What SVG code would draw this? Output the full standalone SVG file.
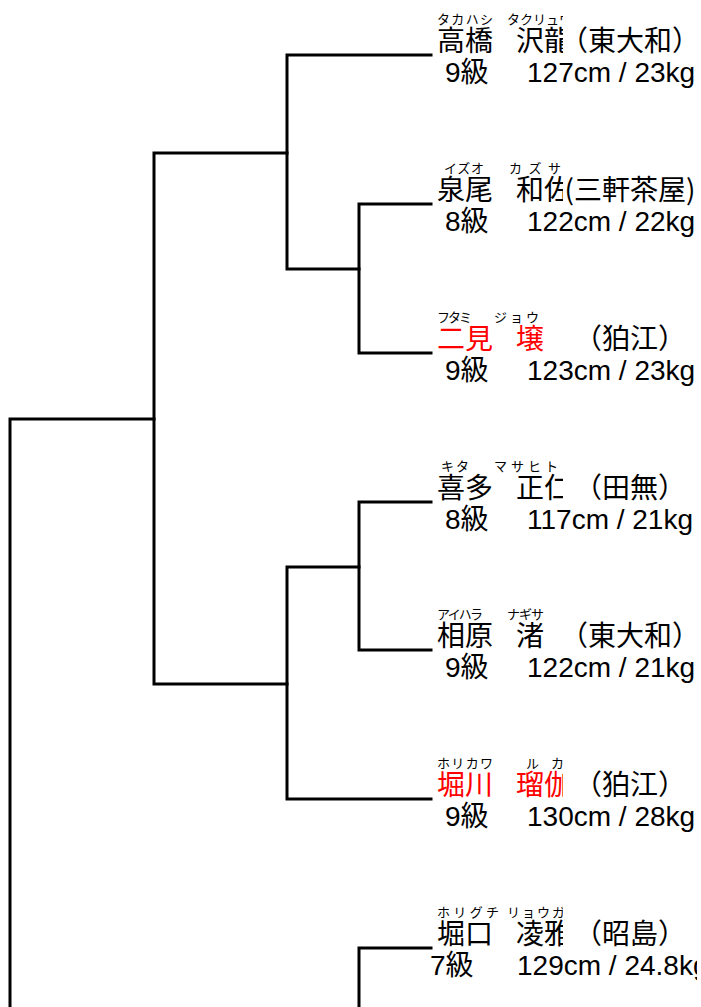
<svg xmlns="http://www.w3.org/2000/svg" width="701" height="1007" viewBox="0 0 701 1007">
<style>
.f{font-family:"Noto Sans CJK JP","Noto Sans CJK SC",sans-serif;font-size:13px;fill:#000}
.n{font-family:"Noto Sans CJK JP","Noto Sans CJK SC",sans-serif;font-size:28px;fill:#000}
.r{fill:#ff0000}
.g{font-family:"Noto Sans CJK JP","Noto Sans CJK SC",sans-serif;font-size:28px;fill:#000;text-anchor:middle}
.s{font-family:"Liberation Sans","Noto Sans CJK JP",sans-serif;font-size:28px;fill:#000}
.ln{fill:none;stroke:#000;stroke-width:3;stroke-linejoin:miter;stroke-linecap:square}
</style>
<defs>
<clipPath id="cg"><rect x="490" y="0" width="73" height="1007"/></clipPath>
<clipPath id="cr"><rect x="0" y="0" width="697" height="1007"/></clipPath>
</defs>
<rect width="701" height="1007" fill="#fff"/>
<g id="connectors">
<path class="ln" d="M431,55 H287 V269 H359"/>
<path class="ln" d="M431,204 H359 V353 H431"/>
<path class="ln" d="M287,153 H154 V684 H287"/>
<path class="ln" d="M431,502 H359 V650 H431"/>
<path class="ln" d="M359,567 H287 V799 H431"/>
<path class="ln" d="M154,419 H10 V1012"/>
<path class="ln" d="M431,948 H359 V1012"/>
</g>
<g id="n1">
<text class="f" x="437" y="24" textLength="56">タカハシ</text>
<text class="f" x="507" y="24" clip-path="url(#cg)">タクリュウ</text>
<text class="n" x="437" y="51">高橋</text>
<text class="n" x="516" y="51" clip-path="url(#cg)">沢龍</text>
<text class="g" x="630" y="51">（東大和）</text>
<text class="s" x="445" y="82">9級</text>
<text class="s" x="527" y="82">127cm / 23kg</text>
</g>
<g id="n2">
<text class="f" x="444" y="173" textLength="40">イズオ</text>
<text class="f" x="509" y="173" textLength="52" clip-path="url(#cg)">カズサ</text>
<text class="n" x="437" y="200">泉尾</text>
<text class="n" x="516" y="200" clip-path="url(#cg)">和佐</text>
<text class="g" x="630" y="200">(三軒茶屋)</text>
<text class="s" x="445" y="231">8級</text>
<text class="s" x="527" y="231">122cm / 22kg</text>
</g>
<g id="n3">
<text class="f" x="437" y="322" textLength="35">フタミ</text>
<text class="f" x="494" y="322" textLength="45" clip-path="url(#cg)">ジョウ</text>
<text class="n r" x="437" y="349">二見</text>
<text class="n r" x="516" y="349" clip-path="url(#cg)">壌</text>
<text class="g" x="630" y="349">（狛江）</text>
<text class="s" x="445" y="380">9級</text>
<text class="s" x="527" y="380">123cm / 23kg</text>
</g>
<g id="n4">
<text class="f" x="441" y="471" textLength="28">キタ</text>
<text class="f" x="494" y="471" textLength="64" clip-path="url(#cg)">マサヒト</text>
<text class="n" x="437" y="498">喜多</text>
<text class="n" x="516" y="498" clip-path="url(#cg)">正仁</text>
<text class="g" x="630" y="498">（田無）</text>
<text class="s" x="445" y="529">8級</text>
<text class="s" x="527" y="529">117cm / 21kg</text>
</g>
<g id="n5">
<text class="f" x="437" y="619" textLength="46">アイハラ</text>
<text class="f" x="507" y="619" textLength="37" clip-path="url(#cg)">ナギサ</text>
<text class="n" x="437" y="646">相原</text>
<text class="n" x="516" y="646" clip-path="url(#cg)">渚</text>
<text class="g" x="630" y="646">（東大和）</text>
<text class="s" x="445" y="677">9級</text>
<text class="s" x="527" y="677">122cm / 21kg</text>
</g>
<g id="n6">
<text class="f" x="437" y="768" textLength="56">ホリカワ</text>
<text class="f" x="526" y="768" textLength="38" clip-path="url(#cg)">ルカ</text>
<text class="n r" x="437" y="795">堀川</text>
<text class="n r" x="516" y="795" clip-path="url(#cg)">瑠伽</text>
<text class="g" x="630" y="795">（狛江）</text>
<text class="s" x="445" y="826">9級</text>
<text class="s" x="527" y="826">130cm / 28kg</text>
</g>
<g id="n7">
<text class="f" x="437" y="917" textLength="62">ホリグチ</text>
<text class="f" x="507" y="917" textLength="58" clip-path="url(#cg)">リョウガ</text>
<text class="n" x="437" y="944">堀口</text>
<text class="n" x="516" y="944" clip-path="url(#cg)">凌雅</text>
<text class="g" x="630" y="944">（昭島）</text>
<text class="s" x="430" y="975">7級</text>
<text class="s" x="517" y="975" clip-path="url(#cr)">129cm / 24.8kg</text>
</g>
</svg>
